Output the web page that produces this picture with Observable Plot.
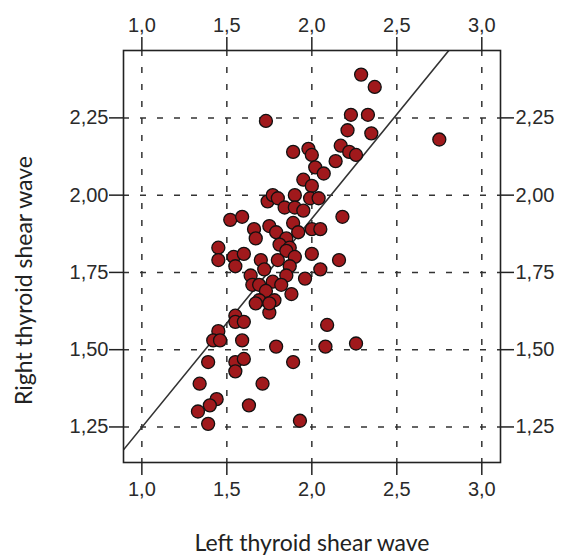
<!DOCTYPE html>
<html>
<head>
<meta charset="utf-8">
<script src="https://cdn.jsdelivr.net/npm/d3@7"></script>
<script src="https://cdn.jsdelivr.net/npm/@observablehq/plot@0.6"></script>
<style>
  html, body { margin: 0; padding: 0; background: #fff; }
  #chart svg { display: block; }
</style>
</head>
<body>
<div id="chart"></div>
<script>
// Left thyroid shear wave (x) and right thyroid shear wave (y)
const leftWave = [
  1.73, 2.29, 2.37, 2.23, 2.33, 2.21, 2.35, 2.75, 2.17, 2.22,
  2.26, 2.14, 1.98, 2.00, 1.89, 2.02, 2.07, 1.95, 2.00, 1.74,
  1.77, 1.80, 1.90, 1.99, 2.04, 1.84, 1.90, 1.95, 2.18, 1.52,
  1.59, 1.66, 1.67, 1.75, 1.79, 1.89, 1.85, 1.92, 2.00, 2.05,
  1.81, 1.87, 1.45, 1.45, 1.54, 1.60, 1.55, 1.85, 1.90, 2.00,
  2.16, 1.70, 1.72, 1.80, 1.87, 1.85, 1.96, 2.05, 1.64, 1.65,
  1.69, 1.77, 1.82, 1.73, 1.88, 1.69, 1.67, 1.78, 1.75, 1.75,
  1.55, 1.55, 1.60, 1.45, 1.42, 1.46, 1.59, 1.79, 2.09, 2.08,
  2.26, 1.39, 1.55, 1.60, 1.55, 1.89, 1.34, 1.71, 1.44, 1.40,
  1.33, 1.63, 1.39, 1.93
];
const rightWave = [
  2.24, 2.39, 2.35, 2.26, 2.26, 2.21, 2.20, 2.18, 2.16, 2.14,
  2.13, 2.11, 2.15, 2.13, 2.14, 2.09, 2.07, 2.05, 2.03, 1.98,
  2.00, 1.99, 2.00, 1.99, 1.99, 1.96, 1.96, 1.95, 1.93, 1.92,
  1.93, 1.89, 1.86, 1.90, 1.88, 1.91, 1.86, 1.88, 1.89, 1.89,
  1.84, 1.83, 1.83, 1.79, 1.80, 1.81, 1.77, 1.82, 1.80, 1.81,
  1.79, 1.79, 1.76, 1.79, 1.77, 1.74, 1.73, 1.76, 1.74, 1.71,
  1.71, 1.72, 1.71, 1.69, 1.68, 1.66, 1.65, 1.66, 1.62, 1.65,
  1.61, 1.59, 1.59, 1.56, 1.53, 1.53, 1.53, 1.51, 1.58, 1.51,
  1.52, 1.46, 1.46, 1.47, 1.43, 1.46, 1.39, 1.39, 1.34, 1.32,
  1.30, 1.32, 1.26, 1.27
];
const xTicks = [1.0, 1.5, 2.0, 2.5, 3.0];
const yTicks = [1.25, 1.50, 1.75, 2.00, 2.25];
const xTitle = "Left thyroid shear wave";
const yTitle = "Right thyroid shear wave";
// fit line (intercept, slope)
const fitIntercept = 0.574;
const fitSlope = 0.675;

const xDomain = [0.892, 3.11];
const yDomain = [1.135, 2.468];

const points = leftWave.map((x, i) => ({x, y: rightWave[i]}));
const fitLine = xDomain.map(x => ({x, y: fitIntercept + fitSlope * x}));

const fx = d => d3.format(".1f")(d).replace(".", ",");
const fy = d => d3.format(".2f")(d).replace(".", ",");

const tickFont = "'Liberation Sans', Arial, sans-serif";
const titleFont = "Lato, 'Open Sans', sans-serif";
const tickSize = 20;

const chart = Plot.plot({
  width: 565,
  height: 560,
  marginLeft: 123,
  marginRight: 65,
  marginTop: 50,
  marginBottom: 98,
  style: {background: "#fff", fontFamily: tickFont, fontSize: tickSize + "px", color: "#2a2a2a"},
  x: {domain: xDomain, ticks: xTicks},
  y: {domain: yDomain, ticks: yTicks},
  marks: [
    Plot.gridX(xTicks, {stroke: "#333", strokeOpacity: 1, strokeWidth: 1.5, strokeDasharray: "6,11"}),
    Plot.gridY(yTicks, {stroke: "#333", strokeOpacity: 1, strokeWidth: 1.5, strokeDasharray: "6,11"}),
    Plot.axisX(xTicks, {anchor: "top", tickFormat: fx, tickSize: 14, tickPadding: 5, label: null, fontSize: tickSize, strokeWidth: 1.5, stroke: "#222"}),
    Plot.axisX(xTicks, {anchor: "bottom", tickFormat: fx, tickSize: 13, tickPadding: 6, label: null, fontSize: tickSize, strokeWidth: 1.5, stroke: "#222"}),
    Plot.axisY(yTicks, {anchor: "left", tickFormat: fy, tickSize: 14, tickPadding: 1, label: null, fontSize: tickSize, strokeWidth: 1.5, stroke: "#222"}),
    Plot.axisY(yTicks, {anchor: "right", tickFormat: fy, tickSize: 13, tickPadding: 2, label: null, fontSize: tickSize, strokeWidth: 1.5, stroke: "#222"}),
    Plot.line(fitLine, {x: "x", y: "y", stroke: "#333", strokeWidth: 1.6, clip: true}),
    Plot.dot(points, {x: "x", y: "y", r: 6.5, fill: "#a0191c", stroke: "#111", strokeWidth: 1.3}),
    Plot.frame({stroke: "#222", strokeWidth: 1.6}),
    Plot.text([xTitle], {text: d => d, frameAnchor: "bottom", dy: 88, fontSize: 23, fontFamily: titleFont, fill: "#222"}),
    Plot.text([yTitle], {text: d => d, frameAnchor: "left", textAnchor: "middle", dx: -99, dy: 24, rotate: -90, fontSize: 23, fontFamily: titleFont, fill: "#222"})
  ]
});

document.getElementById("chart").appendChild(chart);
</script>
</body>
</html>
